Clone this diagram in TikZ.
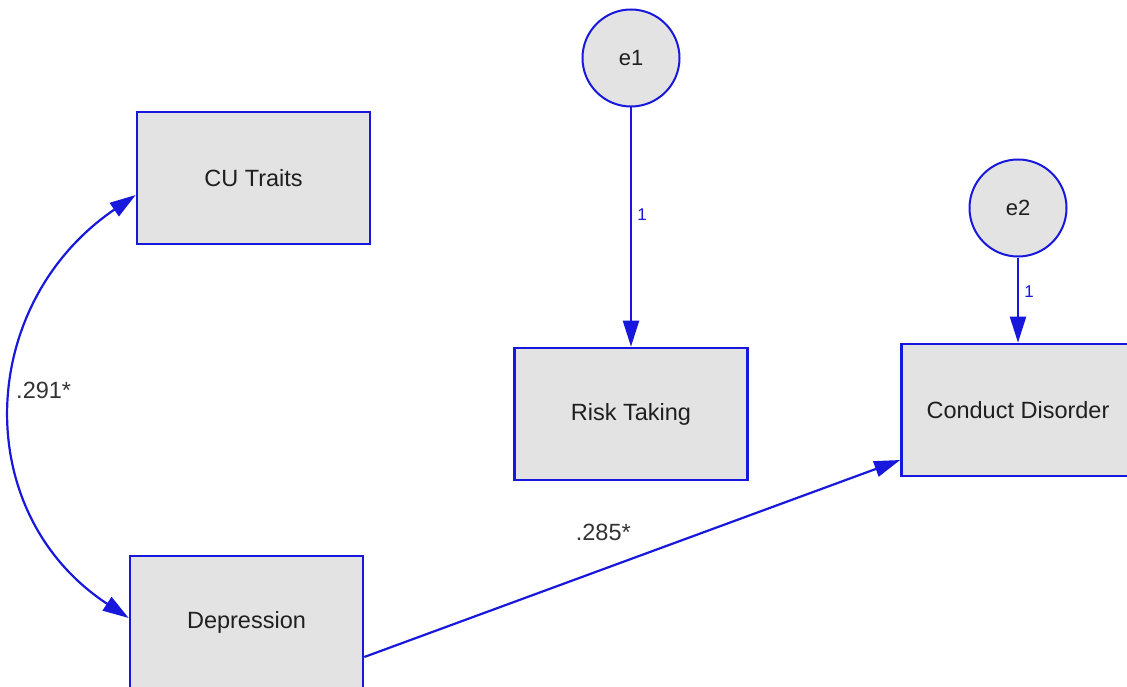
\documentclass[tikz,border=0pt]{standalone}
\usepackage{fontspec}
\setmainfont{Liberation Sans}
\usetikzlibrary{arrows.meta}
\definecolor{amosblue}{RGB}{24,24,220}
\definecolor{boxgray}{RGB}{227,227,227}
\begin{document}
\begin{tikzpicture}[x=1pt,y=-1pt,
    >={Triangle[length=26pt,width=16pt]},
    var/.style={draw=amosblue,line width=2.6pt,fill=boxgray,minimum width=233pt,
      minimum height=132pt,font=\fontsize{23.5}{28}\selectfont,text=black!88},
    err/.style={circle,draw=amosblue,line width=2pt,fill=boxgray,minimum size=97pt,
      font=\fontsize{22}{26}\selectfont,text=black!88},
    conn/.style={amosblue,line width=2.2pt},
    coef/.style={font=\fontsize{23.5}{28}\selectfont,text=black!80},
    wt/.style={font=\fontsize{17}{20}\selectfont,text=amosblue}]
  \useasboundingbox (0,0) rectangle (1127,687);
  % observed variables
  \node[var] (cu) at (253.5,178) {CU Traits};
  \node[var] (dep) at (246.5,622) {Depression};
  \node[var] (risk) at (631,414) {Risk Taking};
  \node[var] (cd) at (1018,410) {Conduct Disorder};
  % error terms
  \node[err] (e1) at (631,58) {e1};
  \node[err] (e2) at (1018,208) {e2};
  % paths
  \draw[conn,<->] ([yshift=-17pt]cu.west) .. controls (-24,304) and (-31,513) .. ([yshift=4pt]dep.west)
    node[coef,pos=0.45,anchor=west,inner sep=1pt,yshift=-6pt] {.291*};
  \draw[conn,->] (e1) -- (risk) node[wt,pos=0.45,right,xshift=2pt] {1};
  \draw[conn,->] (e2) -- (cd) node[wt,pos=0.4,right,xshift=2pt] {1};
  \draw[conn,->] ([yshift=-35pt]dep.east) -- ([yshift=-50pt]cd.west)
    node[coef,pos=0.446,yshift=37pt] {.285*};
\end{tikzpicture}
\end{document}
